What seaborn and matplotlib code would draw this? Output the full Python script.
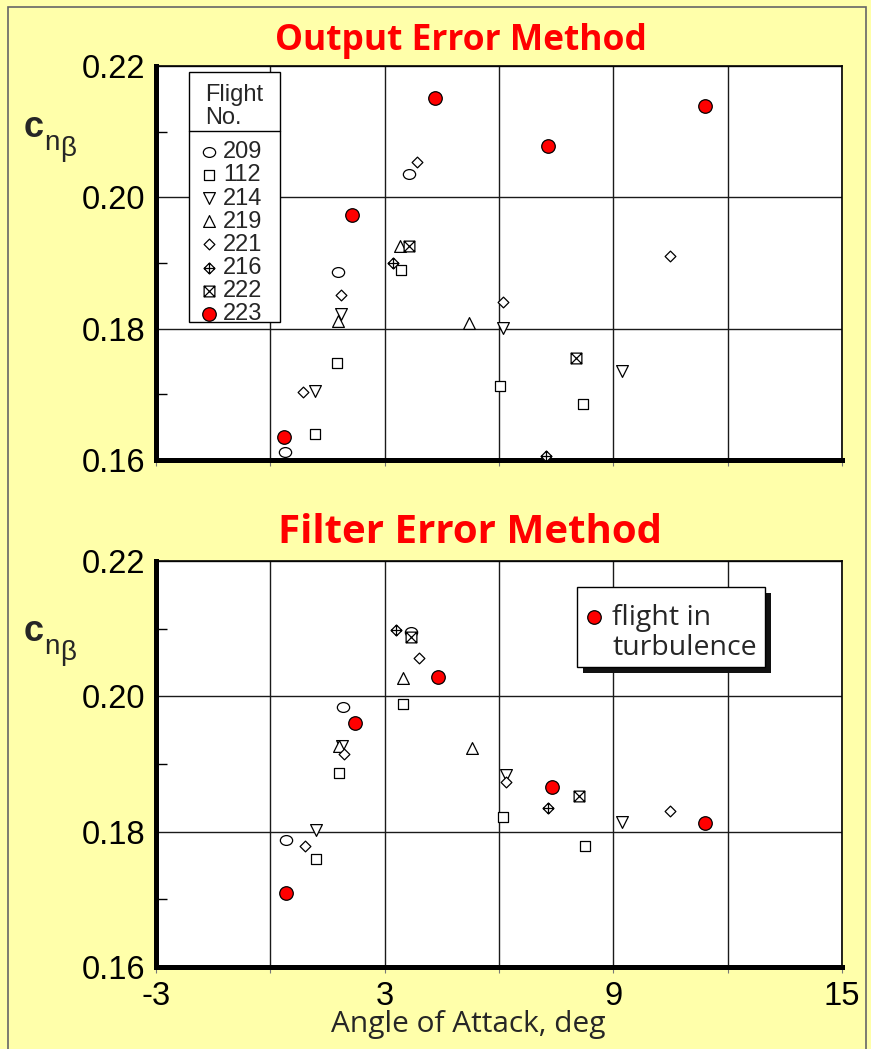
import matplotlib
matplotlib.use("Agg")
import matplotlib.pyplot as plt
from matplotlib.path import Path
from matplotlib.patches import Rectangle
from matplotlib.lines import Line2D
from matplotlib.ticker import FixedLocator
import pandas as pd
import seaborn as sns

# ---------------------------------------------------------------- data
flight_order = ["209", "112", "214", "219", "221", "216", "222", "223"]

# Output error method: flight, angle of attack [deg], Cn_beta
oem_flight = ["209", "209", "209",
              "112", "112", "112", "112", "112",
              "214", "214", "214", "214",
              "219", "219", "219",
              "221", "221", "221", "221", "221",
              "216", "216",
              "222", "222",
              "223", "223", "223", "223", "223"]
oem_alpha = [0.38, 1.77, 3.65,
             1.16, 1.75, 3.43, 6.03, 8.21,
             1.16, 1.85, 6.11, 9.23,
             1.77, 5.22, 3.41,
             3.84, 1.85, 0.85, 6.11, 10.48,
             3.23, 7.24,
             3.65, 8.02,
             0.35, 2.13, 4.33, 7.29, 11.40]
oem_cnb = [0.1612, 0.1887, 0.2035,
           0.1640, 0.1748, 0.1889, 0.1713, 0.1686,
           0.1705, 0.1822, 0.1801, 0.1736,
           0.1812, 0.1809, 0.1926,
           0.2054, 0.1851, 0.1704, 0.1841, 0.1911,
           0.1900, 0.1606,
           0.1926, 0.1755,
           0.1635, 0.1973, 0.2151, 0.2078, 0.2139]

# Filter error method: flight, angle of attack [deg], Cn_beta
fem_flight = ["209", "209", "209",
              "112", "112", "112", "112", "112",
              "214", "214", "214", "214",
              "219", "219", "219",
              "221", "221", "221", "221", "221",
              "216", "216",
              "222", "222",
              "223", "223", "223", "223", "223"]
fem_alpha = [3.70, 1.90, 0.41,
             3.49, 1.80, 1.21, 6.11, 8.25,
             1.89, 6.19, 1.21, 9.24,
             3.49, 1.79, 5.29,
             3.91, 1.92, 6.19, 0.92, 10.48,
             3.30, 7.29,
             3.70, 8.10,
             4.40, 2.21, 0.42, 7.39, 11.40]
fem_cnb = [0.2095, 0.1984, 0.1788,
           0.1988, 0.1886, 0.1760, 0.1821, 0.1779,
           0.1927, 0.1884, 0.1802, 0.1815,
           0.2027, 0.1926, 0.1924,
           0.2057, 0.1915, 0.1874, 0.1779, 0.1831,
           0.2098, 0.1835,
           0.2088, 0.1853,
           0.2029, 0.1961, 0.1710, 0.1866, 0.1813]

x_ticks = [-3, 0, 3, 6, 9, 12, 15]
x_ticklabels = ["-3", "", "3", "", "9", "", "15"]
y_ticks = [0.16, 0.18, 0.20, 0.22]
y_ticklabels = ["0.16", "0.18", "0.20", "0.22"]
y_minor = [0.17, 0.19, 0.21]

# ---------------------------------------------------------------- markers
M, L, C = Path.MOVETO, Path.LINETO, Path.CLOSEPOLY
crossed_diamond = Path(
    [(0, 1), (1, 0), (0, -1), (-1, 0), (0, 1), (0, 1), (0, -1), (-1, 0), (1, 0)],
    [M, L, L, L, C, M, L, M, L])
boxed_x = Path(
    [(-1, -1), (1, -1), (1, 1), (-1, 1), (-1, -1), (-1, -1), (1, 1), (-1, 1), (1, -1)],
    [M, L, L, L, C, M, L, M, L])
_circ = Path.unit_circle()
flat_circle = Path(_circ.vertices * [1.0, 0.8], _circ.codes)

marker_of = {"209": flat_circle, "112": "s", "214": "v", "219": "^",
             "221": "D", "216": crossed_diamond, "222": boxed_x, "223": "o"}
size_of = {"209": 78, "112": 60, "214": 72, "219": 72,
           "221": 30, "216": 62, "222": 60, "223": 95}
face_of = {f: "white" for f in flight_order}
face_of["223"] = "#FF0000"

BG = "#FFFFAA"
W, H = 871, 1049
AX_L, AX_R = 156, 842
TOP_T, TOP_B = 66, 460
BOT_T, BOT_B = 561, 967

sns.set_theme(style="white")
plt.rcParams["font.family"] = ["Liberation Sans", "DejaVu Sans"]
plt.rcParams["axes.unicode_minus"] = False

fig = plt.figure(figsize=(W / 100, H / 100), dpi=100, facecolor=BG)


def px_axes(left, right, top, bottom):
    return fig.add_axes([left / W, 1 - bottom / H, (right - left) / W, (bottom - top) / H])


def style_axes(ax, show_xlabels):
    ax.set_facecolor("white")
    ax.set_xlim(-3, 15)
    ax.set_ylim(0.16, 0.22)
    ax.set_xticks(x_ticks)
    ax.set_xticklabels(x_ticklabels if show_xlabels else [""] * len(x_ticks))
    ax.set_yticks(y_ticks)
    ax.set_yticklabels(y_ticklabels)
    ax.yaxis.set_minor_locator(FixedLocator(y_minor))
    ax.grid(True, which="major", color="#1a1a1a", linewidth=1.0)
    ax.set_axisbelow(True)
    ax.tick_params(axis="y", which="major", length=0, pad=8, labelsize=23.5, colors="black")
    ax.tick_params(axis="y", which="minor", left=True, direction="in",
                   length=8, width=1.0, color="black")
    ax.tick_params(axis="x", which="major", bottom=True, direction="out",
                   length=4, width=0.8, color="#777777", pad=6,
                   labelsize=23.5, labelcolor="black")
    for side in ("left", "bottom"):
        ax.spines[side].set_linewidth(3.6)
        ax.spines[side].set_color("black")
    for side in ("top", "right"):
        ax.spines[side].set_linewidth(1.2)
        ax.spines[side].set_color("black")
    ax.set_xlabel("")
    ax.set_ylabel("")


def draw_points(ax, flights, alpha, cnb):
    df = pd.DataFrame({"flight": flights, "alpha": alpha, "cnb": cnb})
    for f in flight_order:
        sub = df[df["flight"] == f]
        sns.scatterplot(data=sub, x="alpha", y="cnb", ax=ax,
                        marker=marker_of[f], s=size_of[f],
                        color=face_of[f], edgecolor="black",
                        linewidth=0.9, label=f, zorder=3, legend=False)


def px_box(ax, top_px, bottom_px, x0, x1, y_top, y_bot):
    """Axes-fraction rectangle for a pixel box inside an axes."""
    w = AX_R - AX_L
    h = bottom_px - top_px
    return ((x0 - AX_L) / w, (bottom_px - y_bot) / h,
            (x1 - x0) / w, (y_bot - y_top) / h)


ax_top = px_axes(AX_L, AX_R, TOP_T, TOP_B)
ax_bot = px_axes(AX_L, AX_R, BOT_T, BOT_B)

draw_points(ax_top, oem_flight, oem_alpha, oem_cnb)
draw_points(ax_bot, fem_flight, fem_alpha, fem_cnb)
style_axes(ax_top, False)
style_axes(ax_bot, True)

# panel titles
title_font = dict(family=["Open Sans", "DejaVu Sans"], weight="bold",
                  color="#FF0000", ha="center", va="baseline")
fig.text(461 / W, 1 - 50 / H, "Output Error Method", size=25.5, **title_font)
fig.text(470 / W, 1 - 543 / H, "Filter Error Method", size=29, **title_font)

# axis labels
fig.text(468 / W, 1 - 1032 / H, "Angle of Attack, deg",
         family=["Open Sans", "DejaVu Sans"], size=21.5, ha="center", va="baseline")
for base in (137, 641):
    fig.text(24 / W, 1 - base / H, "c", family=["Liberation Sans", "DejaVu Sans"],
             weight="bold", size=26, ha="left", va="baseline")
    fig.text(44 / W, 1 - (base + 13) / H, "n", family=["Liberation Sans", "DejaVu Sans"],
             size=20, ha="left", va="baseline")
    fig.text(60 / W, 1 - (base + 19) / H, "\u03b2", family=["Liberation Sans", "DejaVu Sans"],
             size=20, ha="left", va="baseline")

# ------------------------------------------------ flight legend (upper panel)
bx, by, bw, bh = px_box(ax_top, TOP_T, TOP_B, 189, 280, 72, 322)
ax_top.add_patch(Rectangle((bx, by), bw, bh, transform=ax_top.transAxes,
                           facecolor="white", edgecolor="black", linewidth=1.0,
                           clip_on=False, zorder=4.8))
ry = (TOP_B - 131) / (TOP_B - TOP_T)
ax_top.add_line(Line2D([bx, bx + bw], [ry, ry], transform=ax_top.transAxes,
                       color="black", linewidth=1.0, clip_on=False, zorder=6))

handles, labels = ax_top.get_legend_handles_labels()
ax_h = TOP_B - TOP_T
leg_top = ax_top.legend(handles, labels, title="Flight\nNo.", loc="upper left",
                        bbox_to_anchor=(bx, (TOP_B - 77) / ax_h - 0.5, bw, 0.5),
                        mode="expand", borderaxespad=0, frameon=False,
                        fontsize=17, title_fontsize=17, labelspacing=0.045,
                        handlelength=1.1, handletextpad=0.05, borderpad=0.3,
                        scatterpoints=1)
leg_top.get_title().set_linespacing(1.05)
leg_top._legend_box.sep = 9
leg_top.set_zorder(5)

# --------------------------------------- turbulence legend (lower panel)
sx, sy, sw, sh = px_box(ax_bot, BOT_T, BOT_B, 577, 765, 587, 667)
dx = 6 / (AX_R - AX_L)
dy = 6 / (BOT_B - BOT_T)
ax_bot.add_patch(Rectangle((sx + dx, sy - dy), sw, sh, transform=ax_bot.transAxes,
                           facecolor="#111111", edgecolor="none",
                           clip_on=False, zorder=4.6))
ax_bot.add_patch(Rectangle((sx, sy), sw, sh, transform=ax_bot.transAxes,
                           facecolor="white", edgecolor="black", linewidth=1.0,
                           clip_on=False, zorder=4.8))

h_bot, l_bot = ax_bot.get_legend_handles_labels()
red = h_bot[l_bot.index("223")]
blank = Line2D([], [], linestyle="none", marker=None)
leg_bot = ax_bot.legend([red, blank], ["flight in", "turbulence"], loc="upper left",
                        bbox_to_anchor=((577 - AX_L) / (AX_R - AX_L),
                                        (BOT_B - 595) / (BOT_B - BOT_T)),
                        borderaxespad=0, frameon=False,
                        prop={"family": ["Open Sans", "DejaVu Sans"], "size": 20.5},
                        labelspacing=0.1, handlelength=0.62, handletextpad=0.32,
                        borderpad=0.3, scatterpoints=1)
leg_bot.set_zorder(5)

# thin frame round the figure
fig.patches.append(Rectangle((8 / W, -0.01), (866 - 8) / W, 1.01 - 7 / H,
                             transform=fig.transFigure, fill=False,
                             edgecolor="#666666", linewidth=1.2, zorder=-1))

fig.savefig("out.png", dpi=100, facecolor=BG)
